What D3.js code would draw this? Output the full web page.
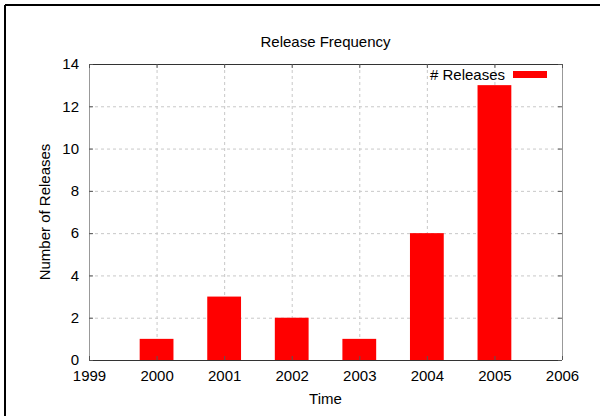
<!DOCTYPE html>
<html>
<head>
<meta charset="utf-8">
<script src="https://cdn.jsdelivr.net/npm/d3@7"></script>
<style>
  body { margin: 0; background: #fff; }
  svg { display: block; font-family: "Liberation Sans", Arial, sans-serif; }
</style>
</head>
<body>
<div id="main"></div>
<script>
// data
var years = [2000, 2001, 2002, 2003, 2004, 2005];
var releases = [1, 3, 2, 1, 6, 13];
var xTicks = [1999, 2000, 2001, 2002, 2003, 2004, 2005, 2006];
var yTicks = [0, 2, 4, 6, 8, 10, 12, 14];

var ctx = {
    w: 600,
    h: 416,
    margin: { top: 64, right: 38, bottom: 56, left: 89 },
};

var svg = d3.select("#main").append("svg")
    .attr("width", ctx.w)
    .attr("height", ctx.h);

// outer frame (top + left edges visible)
svg.append("line").attr("x1", 5).attr("x2", 600).attr("y1", 5).attr("y2", 5)
    .attr("stroke", "#000").attr("stroke-width", 2);
svg.append("line").attr("x1", 5).attr("x2", 5).attr("y1", 5).attr("y2", 416)
    .attr("stroke", "#000").attr("stroke-width", 2);

var width = ctx.w - ctx.margin.left - ctx.margin.right;
var height = ctx.h - ctx.margin.top - ctx.margin.bottom;

var g = svg.append("g")
    .attr("transform", "translate(" + ctx.margin.left + "," + ctx.margin.top + ")");

var x = d3.scaleLinear().domain([1999, 2006]).range([0, width]);
var y = d3.scaleLinear().domain([0, 14]).range([height, 0]);

// grid
g.append("g").selectAll("line")
    .data(yTicks.slice(1, -1))
    .enter().append("line")
    .attr("x1", 0).attr("x2", width)
    .attr("y1", d => y(d) + 0.5).attr("y2", d => y(d) + 0.5)
    .attr("stroke", "#c8c8c8").attr("stroke-dasharray", "3,3");
g.append("g").selectAll("line")
    .data(xTicks.slice(1, -1))
    .enter().append("line")
    .attr("x1", d => x(d) + 0.5).attr("x2", d => x(d) + 0.5)
    .attr("y1", 0).attr("y2", height)
    .attr("stroke", "#c8c8c8").attr("stroke-dasharray", "3,3");

// bars
var bw = x(1999.5) - x(1999);
g.append("g").selectAll("rect")
    .data(years)
    .enter().append("rect")
    .attr("x", (d) => x(d) - bw / 2)
    .attr("y", (d, i) => y(releases[i]))
    .attr("width", bw)
    .attr("height", (d, i) => height - y(releases[i]))
    .attr("fill", "#ff0000");

// borders
g.append("line").attr("x1", 0).attr("x2", width).attr("y1", 0.5).attr("y2", 0.5).attr("stroke", "#333");
g.append("line").attr("x1", 0).attr("x2", width).attr("y1", height + 0.5).attr("y2", height + 0.5).attr("stroke", "#333");
g.append("line").attr("x1", 0.5).attr("x2", 0.5).attr("y1", 0).attr("y2", height).attr("stroke", "#999");
g.append("line").attr("x1", width + 0.5).attr("x2", width + 0.5).attr("y1", 0).attr("y2", height).attr("stroke", "#999");

// axes (inward ticks)
var xAxis = g.append("g")
    .attr("transform", "translate(0," + height + ")")
    .call(d3.axisBottom(x).tickValues(xTicks).tickFormat(d3.format("d")).tickSize(-4).tickPadding(10));
var xTop = g.append("g")
    .call(d3.axisTop(x).tickValues(xTicks).tickFormat("").tickSize(-4));
var yAxis = g.append("g")
    .call(d3.axisLeft(y).tickValues(yTicks).tickSize(-4).tickPadding(10));
var yRight = g.append("g")
    .attr("transform", "translate(" + width + ",0)")
    .call(d3.axisRight(y).tickValues(yTicks).tickFormat("").tickSize(-4));

[xAxis, xTop, yAxis, yRight].forEach(function (a) {
    a.select(".domain").remove();
    a.selectAll(".tick line").attr("stroke", "#555");
    a.selectAll("text").attr("font-size", 15).attr("fill", "#000")
        .attr("font-family", "Liberation Sans, Arial, sans-serif");
});

// title and labels
svg.append("text")
    .attr("x", ctx.margin.left + width / 2)
    .attr("y", 47)
    .attr("text-anchor", "middle")
    .attr("font-size", 15)
    .text("Release Frequency");

svg.append("text")
    .attr("x", ctx.margin.left + width / 2)
    .attr("y", 404)
    .attr("text-anchor", "middle")
    .attr("font-size", 15)
    .text("Time");

svg.append("text")
    .attr("transform", "translate(50," + (ctx.margin.top + height / 2) + ") rotate(-90)")
    .attr("text-anchor", "middle")
    .attr("font-size", 15)
    .text("Number of Releases");

// legend
svg.append("text")
    .attr("x", 505)
    .attr("y", 80)
    .attr("text-anchor", "end")
    .attr("font-size", 15)
    .text("# Releases");
svg.append("rect")
    .attr("x", 513).attr("y", 71)
    .attr("width", 34).attr("height", 7)
    .attr("fill", "#ff0000");
</script>
</body>
</html>
